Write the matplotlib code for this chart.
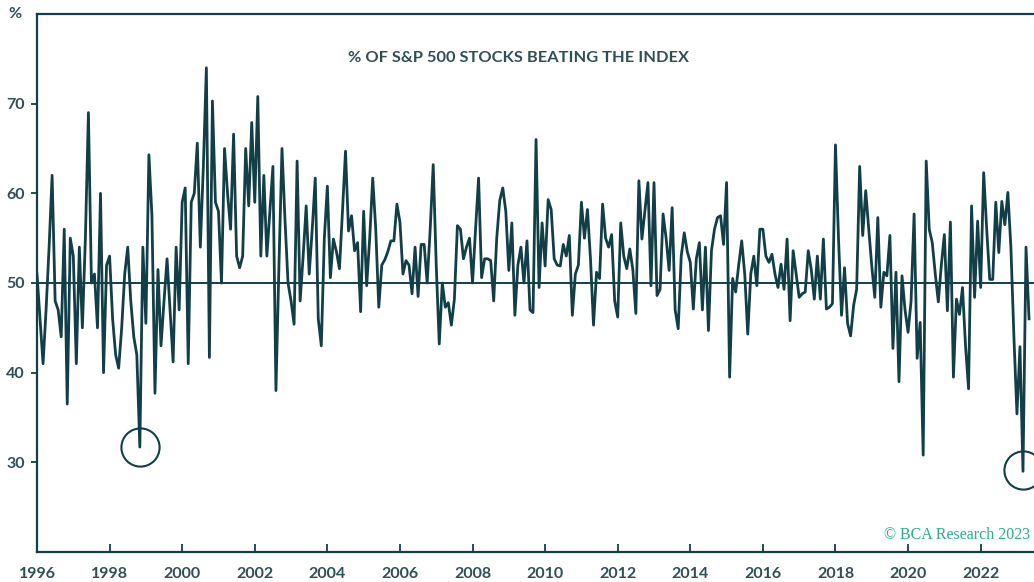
import numpy as np
import matplotlib
matplotlib.use("Agg")
import matplotlib.pyplot as plt

# monthly % of S&P 500 stocks beating the index, Jan 1996 onward
y1996 = [51, 46, 41, 47, 54, 62, 48, 47, 44, 56, 36.5, 55]
y1997 = [53, 41, 54, 45, 55, 69, 50, 51, 45, 60, 40, 52]
y1998 = [53, 46, 42, 40.5, 45, 51, 54, 48, 44, 42, 31.7, 54]
y1999 = [45.5, 64.3, 57.5, 37.7, 51.5, 43, 48, 52.7, 47, 41.2, 54, 47]
y2000 = [59, 60.6, 41, 59, 60, 65.6, 54, 63, 74, 41.7, 70.3, 59]
y2001 = [58, 50, 65, 60, 56, 66.6, 53, 51.7, 53, 65, 58.6, 67.9]
y2002 = [59, 70.8, 53, 62, 53, 58, 63, 38, 52, 65, 57, 50]
y2003 = [48, 45.4, 63.6, 48, 53, 58.6, 51, 56, 61.7, 46, 43, 55]
y2004 = [60.8, 50.6, 54.9, 53.5, 51.6, 58, 64.7, 55.8, 57.5, 53.6, 54.5, 46.8]
y2005 = [58, 49.7, 55, 61.7, 56, 47.3, 52, 52.6, 53.5, 54.7, 54.7, 58.8]
y2006 = [56.8, 51, 52.5, 52, 48.8, 54, 48.5, 54.3, 54.3, 50, 56, 63.2]
y2007 = [52, 43.2, 50, 47.3, 47.8, 45.3, 48.2, 56.4, 56, 52.7, 54, 55]
y2008 = [50, 56, 61.7, 50.6, 52.7, 52.7, 52.5, 48, 55, 59.2, 60.6, 58]
y2009 = [51.4, 56.7, 46.4, 52, 54, 50, 54.7, 47, 46.7, 66, 49.5, 56.7]
y2010 = [51.9, 59.3, 58.2, 52.7, 52, 51.9, 54.3, 53, 55.3, 46.4, 51, 52]
y2011 = [59, 55, 58.2, 52.7, 45.3, 51.2, 50.5, 58.8, 55, 54, 55.4, 48]
y2012 = [46.2, 56.7, 53, 51.6, 53.8, 51.5, 46.6, 61.4, 54.9, 58, 61.2, 49.7]
y2013 = [61.2, 48.6, 49.3, 57.7, 55, 51.4, 58.4, 47, 44.9, 53, 55.6, 53.5]
y2014 = [52.3, 47.1, 52.7, 54.5, 47, 54, 44.7, 53.6, 56, 57.3, 57.5, 54.3]
y2015 = [61.2, 39.5, 50.5, 49, 52, 54.7, 51, 44.3, 51, 53, 49.7, 56]
y2016 = [56, 53, 52.3, 53.2, 51, 49.5, 52.1, 49.3, 54.9, 45.8, 53.6, 51]
y2017 = [48.4, 48.8, 49, 53.6, 51.5, 48.2, 53, 48.2, 54.9, 47.1, 47.3, 47.7]
y2018 = [65.4, 55, 46.4, 51.7, 45.5, 44.1, 47.5, 49.3, 63, 55.3, 60.3, 56]
y2019 = [51.9, 48.4, 57.3, 47.3, 51.2, 50.8, 55.3, 42.7, 51.2, 39, 50.8, 47]
y2020 = [44.5, 48, 57.7, 41.6, 45.6, 30.8, 63.6, 56, 54.5, 51, 47.9, 52]
y2021 = [55.4, 46.9, 56.8, 39.5, 48.2, 46.5, 49.5, 43, 38.2, 58.6, 48.4, 56.9]
y2022 = [49.5, 62.3, 56, 50.4, 50.4, 59, 53.4, 59.1, 56.5, 60.1, 54, 44]
y2023 = [35.4, 42.9, 29, 54, 46]

values = (y1996 + y1997 + y1998 + y1999 + y2000 + y2001 + y2002 + y2003 +
          y2004 + y2005 + y2006 + y2007 + y2008 + y2009 + y2010 + y2011 +
          y2012 + y2013 + y2014 + y2015 + y2016 + y2017 + y2018 + y2019 +
          y2020 + y2021 + y2022 + y2023)
dates = 1996 + np.arange(len(values)) / 12.0

# circled lows
circle_x = [1998.84, 2023.17]
circle_y = [31.7, 29.2]

x_ticks = list(range(1996, 2023, 2))
y_ticks = [30, 40, 50, 60, 70]

dark = "#123f47"
label_col = "#2f4f57"
font = "Lato"

fig = plt.figure(figsize=(10.34, 5.82), dpi=100)
ax = fig.add_axes([37 / 1034, 1 - 552 / 582, 1 - 37 / 1034, (552 - 14) / 582])

ax.plot(dates, values, color=dark, lw=2.0)
ax.axhline(50, color=dark, lw=1.4)
ax.plot(circle_x, circle_y, "o", ms=27.5, mfc="none", mec=dark, mew=1.5)

ax.set_xlim(1996, 2023.47)
ax.set_ylim(20, 80)

for s in ["left", "bottom", "top"]:
    ax.spines[s].set_color(dark)
    ax.spines[s].set_linewidth(1.6)
ax.spines["right"].set_visible(False)

ax.set_xticks(x_ticks)
ax.set_xticklabels([str(t) for t in x_ticks])
ax.set_yticks(y_ticks)
ax.set_yticklabels([str(t) for t in y_ticks])
ax.tick_params(axis="x", direction="in", length=6, width=1.3, color=dark, pad=11,
               labelsize=11.5, labelcolor=label_col)
ax.tick_params(axis="y", direction="out", length=4, width=1.3, color=dark, pad=5,
               labelsize=11.5, labelcolor=label_col)
for lab in ax.get_xticklabels() + ax.get_yticklabels():
    lab.set_fontfamily(font)
    lab.set_fontweight("bold")

fig.text(15 / 1034, 1 - 14 / 582, "%", fontsize=11.5, fontweight="bold",
         family=font, color=label_col, ha="center", va="center")
fig.text(518 / 1034, 1 - 58 / 582, "% OF S&P 500 STOCKS BEATING THE INDEX",
         ha="center", va="center", fontsize=11.8, fontweight="bold", family=font,
         color=label_col)
fig.text(1030 / 1034, 1 - 535 / 582, "\u00a9 BCA Research 2023", ha="right", va="center",
         fontsize=11.5, family="Liberation Serif", color="#25b08a")

fig.savefig("out.png", dpi=100)
